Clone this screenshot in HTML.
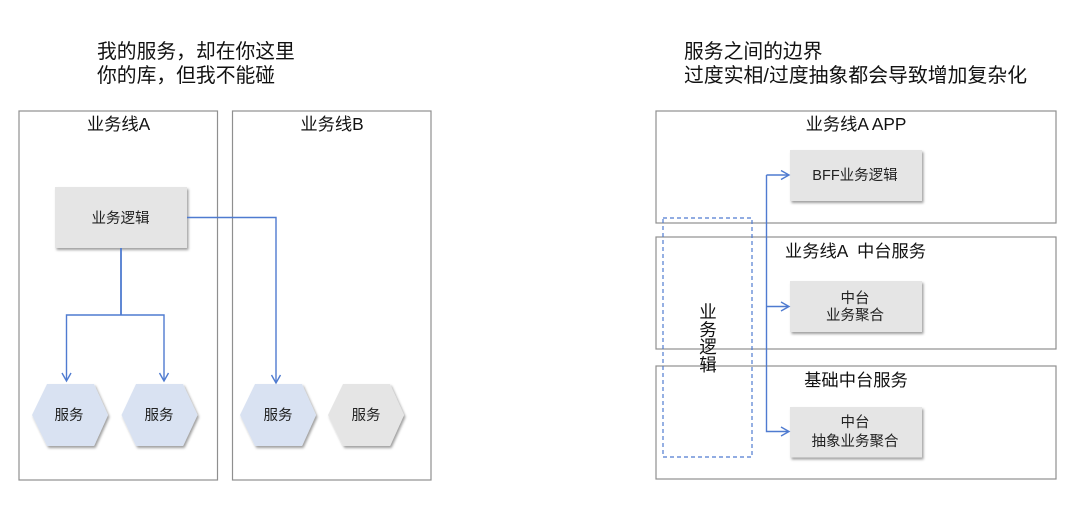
<!DOCTYPE html>
<html lang="zh">
<head>
<meta charset="utf-8">
<style>
html,body{margin:0;padding:0;background:#fff;width:1080px;height:509px;overflow:hidden}
svg{display:block}
text{font-family:"Liberation Sans","Noto Sans CJK SC",sans-serif;fill:#111}
.t{font-size:19.8px}
.h{font-size:17.3px;text-anchor:middle}
.s{font-size:14.5px;text-anchor:middle;fill:#222}
.box{fill:none;stroke:#8f8f8f;stroke-width:1.2}
.n{fill:#e5e5e5;filter:url(#sh)}
.b{fill:#d9e2f2;filter:url(#sh)}
.l{fill:none;stroke:#4f7bd0;stroke-width:1.4}
.a{fill:none;stroke:#4f7bd0;stroke-width:1.4}
</style>
</head>
<body>
<svg width="1080" height="509" viewBox="0 0 1080 509" xmlns="http://www.w3.org/2000/svg">
<defs>
<filter id="sh" x="-15%" y="-15%" width="130%" height="130%">
<feDropShadow dx="1.5" dy="2" stdDeviation="1.2" flood-color="#000" flood-opacity="0.38"/>
</filter>
</defs>

<text class="t" x="97" y="58">我的服务，却在你这里</text>
<text class="t" x="97" y="82">你的库，但我不能碰</text>
<text class="t" x="684" y="58">服务之间的边界</text>
<text class="t" x="684" y="82" textLength="343">过度实相/过度抽象都会导致增加复杂化</text>

<rect class="box" x="19" y="111" width="198.500" height="369"/>
<rect class="box" x="232.500" y="111" width="198.500" height="369"/>
<text class="h" x="118.500" y="130">业务线A</text>
<text class="h" x="332" y="130">业务线B</text>

<rect class="n" x="55" y="187" width="132" height="61"/>
<text class="s" x="120.500" y="223">业务逻辑</text>

<polygon class="b" points="47,384 94,384 108,415 94,446 47,446 32,415"/>
<polygon class="b" points="136,384 183,384 197.500,415 183,446 136,446 121.500,415"/>
<polygon class="b" points="255,384 302,384 316,415 302,446 255,446 240,415"/>
<polygon class="n" points="343,384 390,384 404,415 390,446 343,446 328,415"/>
<text class="s" x="69" y="420">服务</text>
<text class="s" x="159" y="420">服务</text>
<text class="s" x="278" y="420">服务</text>
<text class="s" x="366" y="420">服务</text>

<path class="l" d="M121 248V315" style="stroke-width:1.8"/>
<path class="l" d="M66.500 380V315H164V380"/>
<path class="a" d="M62 373L66.500 381L71 373M159.500 373L164 381L168.500 373"/>
<path class="l" d="M187 217.500H276V382"/>
<path class="a" d="M271.500 375L276 383L280.500 375"/>

<rect class="box" x="656" y="111" width="400" height="112"/>
<rect class="box" x="656" y="237" width="400" height="112"/>
<rect class="box" x="656" y="366" width="400" height="113"/>
<text class="h" x="856" y="130">业务线A APP</text>
<text class="h" x="855.500" y="257" xml:space="preserve">业务线A  中台服务</text>
<text class="h" x="856" y="386">基础中台服务</text>

<rect class="n" x="790" y="150" width="132" height="51"/>
<rect class="n" x="790" y="281" width="132" height="51"/>
<rect class="n" x="790" y="407" width="132" height="50.500"/>
<text class="s" x="855" y="180">BFF业务逻辑</text>
<text class="s" x="855" y="303">中台</text>
<text class="s" x="855" y="320">业务聚合</text>
<text class="s" x="855" y="427">中台</text>
<text class="s" x="855" y="446">抽象业务聚合</text>

<rect x="663" y="218" width="89" height="239" fill="none" stroke="#4f7bd0" stroke-width="1.2" stroke-dasharray="4 3"/>
<g style="font-size:17.5px">
<text x="708" y="318" text-anchor="middle">业</text>
<text x="708" y="336" text-anchor="middle">务</text>
<text x="708" y="353" text-anchor="middle">逻</text>
<text x="708" y="371" text-anchor="middle">辑</text>
</g>

<path class="l" d="M766.500 175H788M766.500 175V431.500H788M766.500 306.500H788"/>
<path class="a" d="M781 170.500L789 175L781 179.500M781 302L789 306.500L781 311M781 427L789 431.500L781 436"/>
</svg>
</body>
</html>
